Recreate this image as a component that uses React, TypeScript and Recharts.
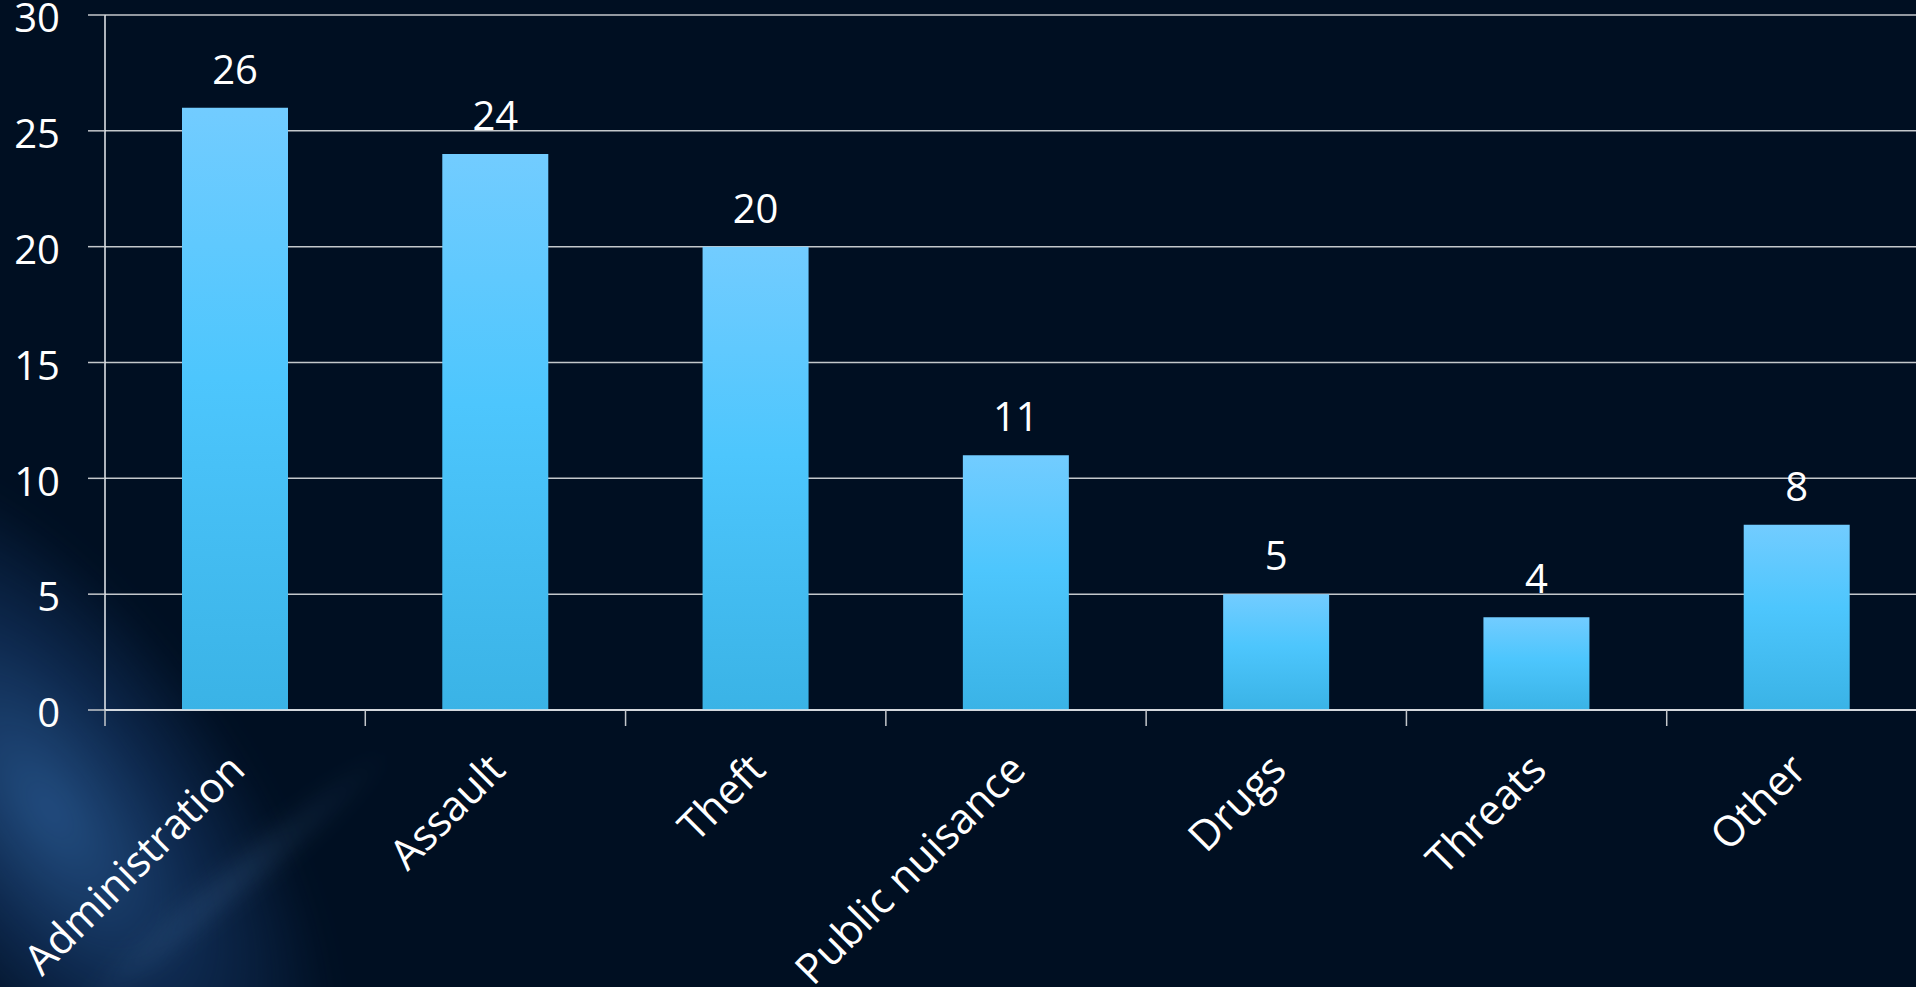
import { BarChart, Bar, XAxis, YAxis, CartesianGrid, LabelList } from 'recharts'

const categories = [
  'Administration',
  'Assault',
  'Theft',
  'Public nuisance',
  'Drugs',
  'Threats',
  'Other',
]
const counts = [26, 24, 20, 11, 5, 4, 8]
const yTicks = [0, 5, 10, 15, 20, 25, 30]

const data = categories.map((name, i) => ({ name, count: counts[i] }))

const FONT = '"Open Sans", sans-serif'
const GRID = '#c4c8cc'

// rotated label plus the tick mark on the left edge of each band
const CategoryTick = (props: any) => {
  const { x, y, payload, width, visibleTicksCount, index } = props
  const band = width / visibleTicksCount
  const left = x - band / 2
  const px = x + 12
  const py = y + 62
  return (
    <g>
      <line x1={left} y1={y} x2={left} y2={y + 16} stroke={GRID} strokeWidth={1.5} />
      {index === visibleTicksCount - 1 && (
        <line x1={left + band} y1={y} x2={left + band} y2={y + 16} stroke={GRID} strokeWidth={1.5} />
      )}
      <text
        x={px}
        y={py}
        transform={`rotate(-45 ${px} ${py})`}
        textAnchor="end"
        fill="#ffffff"
        fontSize={42}
        fontFamily={FONT}
      >
        {payload.value}
      </text>
    </g>
  )
}

const App = () => {
  return (
    <div
      style={{
        position: 'fixed',
        left: 0,
        top: 0,
        width: 1916,
        height: 987,
        overflow: 'hidden',
        background: '#000f22',
      }}
    >
      {/* soft light in the lower left corner */}
      <div
        style={{
          position: 'absolute',
          left: -360,
          top: 620,
          width: 820,
          height: 380,
          transform: 'rotate(55deg)',
          background:
            'radial-gradient(ellipse at 50% 50%, rgba(46,98,160,0.75) 0%, rgba(26,64,118,0.5) 38%, rgba(0,15,34,0) 72%)',
          filter: 'blur(14px)',
        }}
      />
      <div
        style={{
          position: 'absolute',
          left: 20,
          top: 860,
          width: 420,
          height: 50,
          transform: 'rotate(-40deg)',
          background:
            'radial-gradient(ellipse at 50% 50%, rgba(90,140,190,0.18) 0%, rgba(0,15,34,0) 70%)',
          filter: 'blur(8px)',
        }}
      />
      <div style={{ position: 'absolute', left: 0, top: 0 }}>
        <BarChart
          width={1945}
          height={987}
          data={data}
          margin={{ top: 15, right: 18, left: 0, bottom: 0 }}
          style={{ fontFamily: FONT }}
        >
          <defs>
            <linearGradient id="barFill" x1="0" y1="0" x2="0" y2="1">
              <stop offset="0%" stopColor="#72ccff" />
              <stop offset="45%" stopColor="#4dc6fd" />
              <stop offset="100%" stopColor="#3ab3e6" />
            </linearGradient>
          </defs>
          <CartesianGrid vertical={false} stroke={GRID} strokeWidth={1.5} />
          <XAxis
            dataKey="name"
            height={277}
            interval={0}
            tickLine={false}
            tickSize={0}
            tickMargin={0}
            tick={<CategoryTick />}
            axisLine={{ stroke: '#e8ecf0', strokeWidth: 1.5 }}
          />
          <YAxis
            width={105}
            domain={[0, 30]}
            ticks={yTicks}
            interval={0}
            tickSize={17}
            tickMargin={28}
            tick={{ fill: '#ffffff', fontSize: 40, fontFamily: FONT, dy: 3 }}
            tickLine={{ stroke: GRID, strokeWidth: 1.5 }}
            axisLine={{ stroke: '#e8ecf0', strokeWidth: 1.5 }}
          />
          <Bar dataKey="count" fill="url(#barFill)" barSize={106} isAnimationActive={false}>
            <LabelList
              dataKey="count"
              position="top"
              offset={24}
              fill="#ffffff"
              fontSize={40}
              fontFamily={FONT}
            />
          </Bar>
        </BarChart>
      </div>
    </div>
  )
}

export default App
